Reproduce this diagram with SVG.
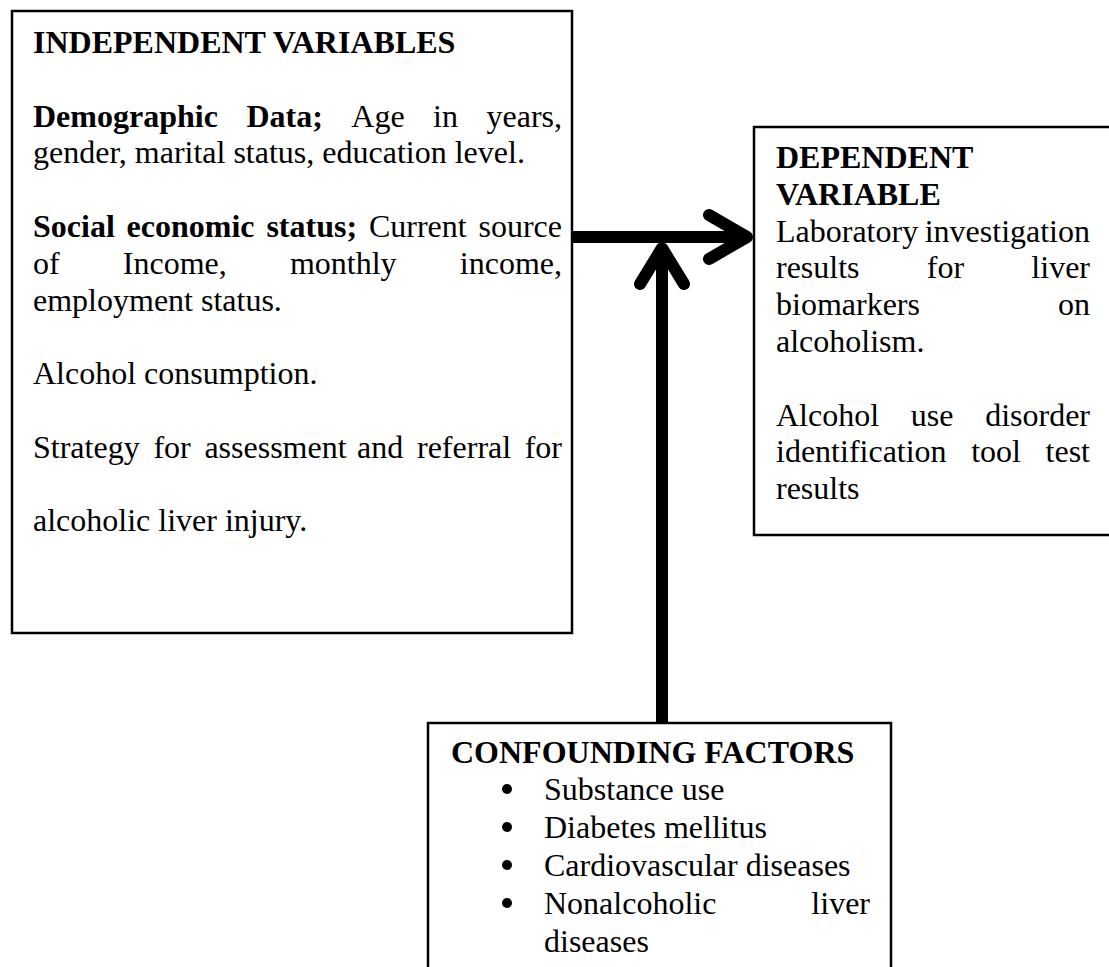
<svg xmlns="http://www.w3.org/2000/svg" width="1109" height="967" viewBox="0 0 1109 967">
<style>
.t{font-family:"Liberation Serif","Times New Roman",serif;font-size:32px;fill:#000}
.b{font-weight:bold}
.e{text-anchor:end}
.box{fill:#fff;stroke:#000;stroke-width:2.5}
.arr{fill:none;stroke:#000;stroke-width:12;stroke-linecap:round;stroke-linejoin:round}
.shaft{fill:none;stroke:#000;stroke-width:12}
.dot{fill:#000}
</style>
<rect width="1109" height="967" fill="#fff"/>
<g id="independent">
<rect class="box" x="12" y="11" width="560" height="622"/>
<text class="t b" x="33" y="53">INDEPENDENT VARIABLES</text>
<text class="t b" x="33" y="126.6">Demographic</text>
<text class="t b" x="246.4" y="126.6">Data;</text>
<text class="t" x="351.3" y="126.6">Age</text>
<text class="t" x="433.1" y="126.6">in</text>
<text class="t e" x="562" y="126.6">years,</text>
<text class="t" x="33" y="163.4">gender, marital status, education level.</text>
<text class="t b" x="33" y="237">Social</text>
<text class="t b" x="126.6" y="237">economic</text>
<text class="t b" x="266.4" y="237">status;</text>
<text class="t" x="368.9" y="237">Current</text>
<text class="t e" x="562" y="237">source</text>
<text class="t" x="33" y="273.8">of</text>
<text class="t" x="122.8" y="273.8">Income,</text>
<text class="t" x="289.9" y="273.8">monthly</text>
<text class="t e" x="562" y="273.8">income,</text>
<text class="t" x="33" y="310.6">employment status.</text>
<text class="t" x="33" y="384.2">Alcohol consumption.</text>
<text class="t" x="33" y="457.8">Strategy</text>
<text class="t" x="153.4" y="457.8">for</text>
<text class="t" x="204.4" y="457.8">assessment</text>
<text class="t" x="357.1" y="457.8">and</text>
<text class="t" x="417" y="457.8">referral</text>
<text class="t e" x="562" y="457.8">for</text>
<text class="t" x="33" y="531.4">alcoholic liver injury.</text>
</g>
<g id="dependent">
<rect class="box" x="754" y="127" width="370" height="408"/>
<text class="t b" x="776" y="168">DEPENDENT</text>
<text class="t b" x="776" y="204.8">VARIABLE</text>
<text class="t" x="776" y="241.6">Laboratory</text>
<text class="t e" x="1090" y="241.6">investigation</text>
<text class="t" x="776" y="278.4">results</text>
<text class="t" x="926.8" y="278.4">for</text>
<text class="t e" x="1090" y="278.4">liver</text>
<text class="t" x="776" y="315.2">biomarkers</text>
<text class="t e" x="1090" y="315.2">on</text>
<text class="t" x="776" y="352">alcoholism.</text>
<text class="t" x="776" y="425.6">Alcohol</text>
<text class="t" x="910.7" y="425.6">use</text>
<text class="t e" x="1090" y="425.6">disorder</text>
<text class="t" x="776" y="462.4">identification</text>
<text class="t" x="971.2" y="462.4">tool</text>
<text class="t e" x="1090" y="462.4">test</text>
<text class="t" x="776" y="499.2">results</text>
</g>
<g id="confounding">
<rect class="box" x="428" y="723" width="463" height="260"/>
<text class="t b" x="451" y="763">CONFOUNDING FACTORS</text>
<circle class="dot" cx="507" cy="789" r="5"/>
<text class="t" x="544" y="800">Substance use</text>
<circle class="dot" cx="507" cy="827" r="5"/>
<text class="t" x="544" y="838">Diabetes mellitus</text>
<circle class="dot" cx="507" cy="865" r="5"/>
<text class="t" x="544" y="876">Cardiovascular diseases</text>
<circle class="dot" cx="507" cy="903" r="5"/>
<text class="t" x="544" y="914">Nonalcoholic</text>
<text class="t e" x="870" y="914">liver</text>
<text class="t" x="544" y="952">diseases</text>
</g>
<g id="connectors">
<line class="shaft" x1="572" y1="237" x2="745" y2="237"/>
<polyline class="arr" points="709,215 747,237 709,259"/>
<line class="shaft" x1="662" y1="723" x2="662" y2="250"/>
<polyline class="arr" points="640,284 662,248 684,284"/>
</g>
</svg>
